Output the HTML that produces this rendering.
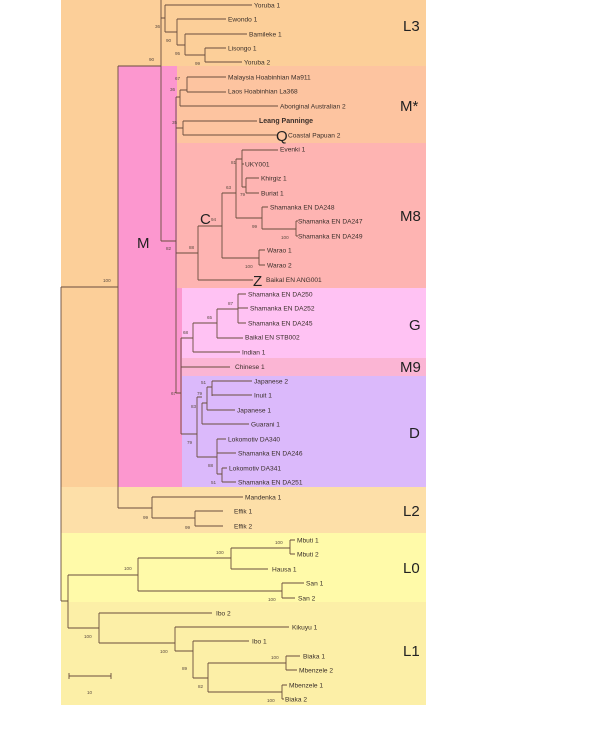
<!DOCTYPE html>
<html><head><meta charset="utf-8"><style>
html,body{margin:0;padding:0;background:#fff;}
svg{display:block;}
text{font-family:"Liberation Sans",sans-serif;}
.l{font-size:6.6px;fill:#3a2f2a;}
.n{font-size:4.6px;fill:#5a4a40;}
.b{font-size:15px;fill:#222;}
</style></head><body>
<svg width="613" height="745" viewBox="0 0 613 745" xmlns="http://www.w3.org/2000/svg">
<rect x="61" y="0" width="365" height="487" fill="#fccf99"/>
<rect x="177" y="66" width="249" height="77" fill="#fdc4a0"/>
<rect x="177" y="143" width="249" height="145" fill="#feb4b2"/>
<rect x="118" y="66" width="59" height="421" fill="#fc97cf"/>
<rect x="177" y="288" width="5" height="199" fill="#fc97cf"/>
<rect x="182" y="288" width="244" height="70" fill="#ffc2f3"/>
<rect x="182" y="358" width="244" height="18" fill="#fbb5d4"/>
<rect x="182" y="376" width="244" height="111" fill="#dbb9fb"/>
<rect x="61" y="487" width="365" height="46" fill="#fddfa8"/>
<rect x="61" y="533" width="365" height="69" fill="#fffaa9"/>
<rect x="61" y="602" width="365" height="103" fill="#fcefa7"/>
<g stroke="#6a4e3e" stroke-width="0.9" fill="none">
<path d="M161 0V241M161 18H165M165 5V32M165 5H252M165 32H177M177 19V45M177 19H226M177 45H185M185 34V55M185 34H247M185 55H205M205 48V62M205 48H226M205 62H242"/>
<path d="M118 66H161M118 66V508M61 287H118M161 241H176M176 97V393M176 97H180M180 90V106M180 90H187M187 77V92M187 77H226M187 92H226M180 106H278"/>
<path d="M176 128H183M183 121V135M183 121H257M183 135H277"/>
<path d="M176 253H198M198 226V280M198 280H253M198 226H222M222 193V258M222 258H259M259 250V265M259 250H265M259 265H265M222 193H236M236 159V218M236 159H242M242 150V187M242 150H278M242 164H244M242 187H246M246 178V193M246 178H259M246 193H259M236 218H262M262 207V229M262 207H268M262 229H296M296 221V236M296 221H298M296 236H298"/>
<path d="M176 393H181M181 338V434M181 338H193M193 323V352M193 352H240M193 323H217M217 309V338M217 338H243M217 309H238M238 294V323M238 294H246M238 308H248M238 323H246M181 367H230"/>
<path d="M181 434H197M197 397V457M197 397H202M202 403V424M202 424H249M202 403H207M207 387V410M207 410H235M207 387H212M212 381V396M212 381H252M212 395H252M197 457H217M217 439V474M217 439H226M217 453H236M217 474H222M222 468V482M222 468H227M222 482H236"/>
<path d="M118 508H152M152 497V518M152 497H243M152 518H195M195 511V526M195 511H223M195 526H223"/>
<path d="M61 287V601M61 601H68M68 575V628M68 575H138M138 558V591M138 558H231M231 548V569M231 548H290M290 540V554M290 540H295M290 554H295M231 569H268M138 591H282M282 583V598M282 583H304M282 598H295"/>
<path d="M68 628H99M99 613V643M99 613H212M99 643H175M175 627V651M175 627H289M175 651H193M193 641V678M193 641H249M193 678H208M208 663V692M208 663H286M286 656V670M286 656H300M286 670H297M208 692H282M282 685V699M282 685H287M282 699H284"/>
<path d="M69 676H111M69 673V679M111 673V679"/>
</g>
<g class="l">
<text x="254" y="7.5">Yoruba 1</text>
<text x="228" y="21.5">Ewondo 1</text>
<text x="249" y="36.5">Bamileke 1</text>
<text x="228" y="50.5">Lisongo 1</text>
<text x="244" y="64.5">Yoruba 2</text>
<text x="228" y="79.5">Malaysia Hoabinhian Ma911</text>
<text x="228" y="93.5">Laos Hoabinhian La368</text>
<text x="280" y="108.5">Aboriginal Australian 2</text>
<text x="259" y="123" style="font-weight:bold;font-size:7px">Leang Panninge</text>
<text x="288" y="137.5">Coastal Papuan 2</text>
<text x="280" y="151.5">Evenki 1</text>
<text x="245" y="166.5">UKY001</text>
<text x="261" y="180.5">Khirgiz 1</text>
<text x="261" y="195.5">Buriat 1</text>
<text x="270" y="209.5">Shamanka EN DA248</text>
<text x="298" y="223.5">Shamanka EN DA247</text>
<text x="298" y="238.5">Shamanka EN DA249</text>
<text x="267" y="252.5">Warao 1</text>
<text x="267" y="267.5">Warao 2</text>
<text x="266" y="282">Baikal EN ANG001</text>
<text x="248" y="296.5">Shamanka EN DA250</text>
<text x="250" y="310.5">Shamanka EN DA252</text>
<text x="248" y="325.5">Shamanka EN DA245</text>
<text x="245" y="339.5">Baikal EN STB002</text>
<text x="242" y="354.5">Indian 1</text>
<text x="235" y="369">Chinese 1</text>
<text x="254" y="383.5">Japanese 2</text>
<text x="254" y="397.5">Inuit 1</text>
<text x="237" y="412.5">Japanese 1</text>
<text x="251" y="426.5">Guarani 1</text>
<text x="228" y="441.5">Lokomotiv DA340</text>
<text x="238" y="455.5">Shamanka EN DA246</text>
<text x="229" y="470.5">Lokomotiv DA341</text>
<text x="238" y="484.5">Shamanka EN DA251</text>
<text x="245" y="499.5">Mandenka 1</text>
<text x="234" y="513.5">Effik 1</text>
<text x="234" y="528.5">Effik 2</text>
<text x="297" y="542.5">Mbuti 1</text>
<text x="297" y="556.5">Mbuti 2</text>
<text x="272" y="571.5">Hausa 1</text>
<text x="306" y="585.5">San 1</text>
<text x="298" y="600.5">San 2</text>
<text x="216" y="615.5">Ibo 2</text>
<text x="292" y="629.5">Kikuyu 1</text>
<text x="252" y="643.5">Ibo 1</text>
<text x="303" y="658.5">Biaka 1</text>
<text x="299" y="672.5">Mbenzele 2</text>
<text x="289" y="687.5">Mbenzele 1</text>
<text x="285" y="701.5">Biaka 2</text>
</g>
<g class="n">
<text x="155" y="28">36</text><text x="166" y="42">90</text><text x="175" y="55">95</text><text x="195" y="65">99</text><text x="149" y="61">90</text>
<text x="175" y="80">67</text><text x="170" y="91">36</text><text x="172" y="124">35</text>
<text x="231" y="164">81</text><text x="226" y="189">63</text><text x="240" y="196">79</text><text x="211" y="221">94</text><text x="189" y="249">88</text><text x="166" y="250">82</text>
<text x="252" y="228">99</text><text x="281" y="239">100</text><text x="245" y="268">100</text><text x="103" y="282">100</text>
<text x="228" y="305">87</text><text x="207" y="319">65</text><text x="183" y="334">68</text><text x="171" y="395">67</text>
<text x="201" y="384">51</text><text x="197" y="395">79</text><text x="191" y="408">83</text><text x="187" y="444">79</text><text x="208" y="467">88</text><text x="211" y="484">51</text>
<text x="143" y="519">99</text><text x="185" y="529">99</text>
<text x="124" y="570">100</text><text x="216" y="554">100</text><text x="275" y="544">100</text><text x="268" y="601">100</text>
<text x="84" y="638">100</text><text x="160" y="653">100</text><text x="182" y="670">89</text><text x="198" y="688">82</text><text x="271" y="659">100</text><text x="267" y="702">100</text>
<text x="87" y="694">10</text>
</g>
<g class="b">
<text x="403" y="31">L3</text>
<text x="400" y="111">M*</text>
<text x="400" y="221">M8</text>
<text x="137" y="248">M</text>
<text x="409" y="330">G</text>
<text x="400" y="372">M9</text>
<text x="409" y="438">D</text>
<text x="403" y="516">L2</text>
<text x="403" y="573">L0</text>
<text x="403" y="656">L1</text>
<text x="276" y="141">Q</text>
<text x="200" y="224">C</text>
<text x="253" y="286">Z</text>
</g>
</svg>
</body></html>
